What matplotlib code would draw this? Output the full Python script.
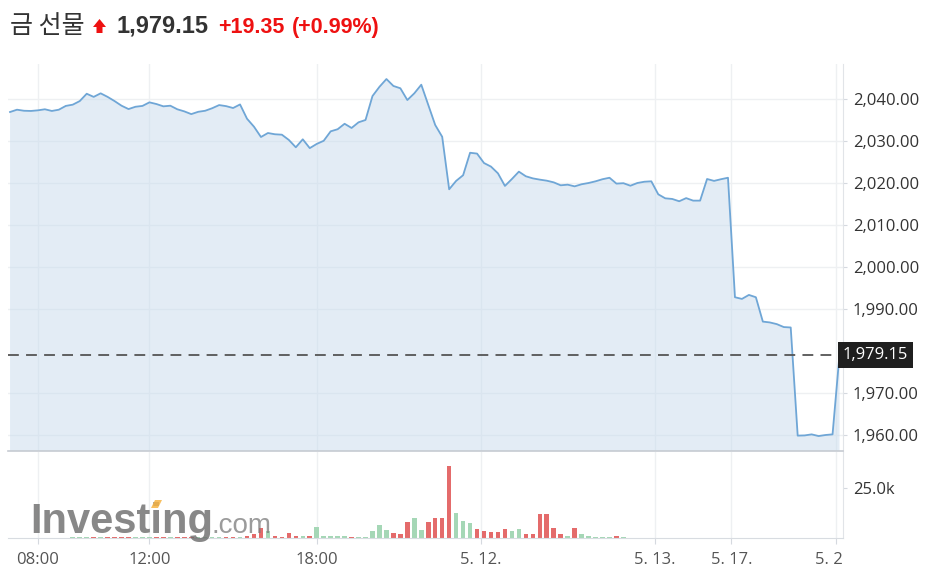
import numpy as np
import matplotlib
matplotlib.use('Agg')
import matplotlib.pyplot as plt
from matplotlib.patches import Polygon
from matplotlib.transforms import blended_transform_factory, ScaledTranslation

# gold futures, one point every 15 min
price = [2036.9, 2037.45, 2037.2, 2037.15, 2037.3, 2037.55, 2037.15, 2037.45, 2038.35, 2038.65,
         2039.5, 2041.25, 2040.5, 2041.35, 2040.5, 2039.5, 2038.4, 2037.6, 2038.15, 2038.35,
         2039.2, 2038.8, 2038.25, 2038.4, 2037.55, 2037.05, 2036.4, 2036.95, 2037.2, 2037.8,
         2038.55, 2038.3, 2037.85, 2038.7, 2035.3, 2033.4, 2030.95, 2031.9, 2031.6, 2031.5,
         2030.25, 2028.5, 2030.4, 2028.3, 2029.3, 2030.05, 2032.3, 2032.8, 2034.1, 2033.1,
         2034.45, 2035.0, 2040.7, 2042.9, 2044.75, 2043.1, 2042.55, 2039.75, 2041.35, 2043.4,
         2038.6, 2033.8, 2031.0, 2018.5, 2020.5, 2021.85, 2027.2, 2027.0, 2024.75, 2023.9,
         2022.3, 2019.3, 2020.95, 2022.7, 2021.6, 2021.1, 2020.8, 2020.55, 2020.15, 2019.45,
         2019.6, 2019.2, 2019.7, 2020.0, 2020.4, 2020.9, 2021.25, 2019.85, 2019.95, 2019.35,
         2020.0, 2020.3, 2020.4, 2017.3, 2016.35, 2016.2, 2015.65, 2016.4, 2015.8, 2015.8,
         2020.95, 2020.5, 2020.9, 2021.25, 1992.8, 1992.4, 1993.35, 1992.8, 1987.0, 1986.8,
         1986.4, 1985.7, 1985.6, 1959.85, 1959.9, 1960.15, 1959.75, 1960.0, 1960.15, 1979.15]

volume = [0, 0, 0, 0, 0, 0, 0, 0, 0, 400,
          400, 400, 400, 400, 400, 400, 400, 400, 400, 400,
          400, 400, 400, 400, 400, 400, 400, 400, 400, 400,
          400, 400, 400, 400, 1150, 2000, 4850, 3350, 1150, 500,
          2650, 1150, 1150, 1150, 5650, 1150, 1150, 1150, 1150, 500,
          500, 500, 3500, 6500, 4150, 2650, 2000, 8000, 10150, 4150,
          8000, 10150, 10250, 35850, 12650, 8650, 7350, 4350, 3650, 2850,
          2850, 4350, 3500, 4350, 2000, 2000, 11850, 11850, 5000, 2000,
          1150, 4850, 2000, 1150, 500, 500, 500, 1150, 500, 0,
          0, 0, 0, 0, 0, 0, 0, 0, 0, 0,
          0, 0, 0, 0, 0, 0, 0, 0, 0, 0,
          0, 0, 0, 0, 0, 0, 0, 0, 0, 0]

tick_pos = [4, 20, 44, 67.5, 92.5, 103.5, 118.5]
tick_lbl = ['08:00', '12:00', '18:00', '5. 12.', '5. 13.', '5. 17.', '5. 2']
price_ticks = [1960, 1970, 1990, 2000, 2010, 2020, 2030, 2040]
last = 1979.15
change = '+19.35'
change_pct = '(+0.99%)'

W, H = 931, 580
fig = plt.figure(figsize=(W / 100, H / 100), dpi=100)
fig.patch.set_facecolor('white')
plt.rcParams['font.family'] = ['Open Sans', 'DejaVu Sans']

ax = fig.add_axes([8 / W, 1 - 451 / H, 835 / W, 387 / H])
vax = fig.add_axes([8 / W, 1 - 538 / H, 835 / W, 86 / H], sharex=ax)

x = np.arange(len(price))
ax.fill_between(x, price, 1900, color='#c6d9ec', alpha=0.48, lw=0, zorder=2)
ax.plot(x, price, color='#6fa6d6', lw=1.3, zorder=3)
ax.set_ylim(1956.19, 2048.33)
ax.set_xlim(-0.29, 119.5)

ax.set_yticks(price_ticks)
ax.set_yticklabels(['{:,.2f}'.format(v) for v in price_ticks])
ax.yaxis.tick_right()
ax.tick_params(axis='y', length=3, color='#d5d9df', labelsize=12, labelcolor='#333333', pad=4)
ax.tick_params(axis='x', length=0, labelbottom=False)
ax.grid(True, color='#eef0f2', lw=1, zorder=1)
ax.set_axisbelow(True)
for s in ['top', 'left']:
    ax.spines[s].set_visible(False)
ax.spines['right'].set_color('#e1e4e8')
ax.spines['bottom'].set_color('#c6cbd2')
ax.spines['bottom'].set_linewidth(1.2)

# last price line + label
ax.axhline(last, color='#555555', lw=1.3, ls=(0, (6, 4)), zorder=4)
ax.text(1.0, last, '{:,.2f}'.format(last), transform=blended_transform_factory(ax.transAxes, ax.transData),
        ha='left', va='center', color='white', fontsize=12, zorder=5, clip_on=False,
        bbox=dict(boxstyle='square,pad=0.3', fc='#1f1f1f', ec='none'))

# volume
colors = ['#a5d7b6' if i == 0 or price[i] >= price[i - 1] else '#e46b6b' for i in range(len(price))]
vax.bar(x, volume, width=0.65, color=colors, zorder=2)
vax.set_ylim(0, 43000)
vax.set_yticks([25000])
vax.set_yticklabels(['25.0k'])
vax.yaxis.tick_right()
vax.tick_params(axis='y', length=3, color='#d5d9df', labelsize=12, labelcolor='#333333', pad=4)
vax.set_xticks(tick_pos)
vax.set_xticklabels(tick_lbl)
vax.tick_params(axis='x', length=4, color='#d5d9df', labelsize=12, labelcolor='#555555', pad=6)
vax.grid(True, axis='x', color='#eef0f2', lw=1, zorder=1)
vax.set_axisbelow(True)
for s in ['top', 'left']:
    vax.spines[s].set_visible(False)
vax.spines['right'].set_color('#e1e4e8')
vax.spines['bottom'].set_color('#d8dce1')
lbl = vax.get_xticklabels()[-1]
lbl.set_transform(lbl.get_transform() + ScaledTranslation(-0.07, 0, fig.dpi_scale_trans))

# header
yb = 1 - 33 / H
fig.text(10 / W, yb, '금 선물', fontsize=18, color='#333333', va='baseline',
         family=['Noto Sans CJK KR', 'DejaVu Sans'])
fig.patches.append(Polygon([[93 / W, 1 - 27 / H], [99.5 / W, 1 - 19 / H], [106 / W, 1 - 27 / H],
                            [102.5 / W, 1 - 27 / H], [102.5 / W, 1 - 33 / H], [96.5 / W, 1 - 33 / H],
                            [96.5 / W, 1 - 27 / H]], closed=True, transform=fig.transFigure,
                           fc='#ee1111', ec='none'))
fig.text(117 / W, yb, '{:,.2f}'.format(last), fontsize=17, fontweight='bold', color='#333333',
         va='baseline', family='Liberation Sans')
fig.text(218 / W, yb, change, fontsize=15.5, fontweight='bold', color='#ee1111',
         va='baseline', family='Liberation Sans')
fig.text(292 / W, yb, change_pct, fontsize=15.5, fontweight='bold', color='#ee1111',
         va='baseline', family='Liberation Sans')

# watermark
fig.text(30 / W, 1 - 533 / H, 'Investing', fontsize=30, fontweight='bold', color='#6a6a6a',
         alpha=0.8, va='baseline', family='Liberation Sans', zorder=10)
fig.text(212 / W, 1 - 533 / H, '.com', fontsize=20, color='#7a7a7a',
         alpha=0.75, va='baseline', family='Liberation Sans', zorder=10)
fig.patches.append(Polygon([[151 / W, 1 - 508 / H], [155 / W, 1 - 500 / H], [162 / W, 1 - 500 / H],
                            [158 / W, 1 - 508 / H]], closed=True, transform=fig.transFigure,
                           fc='#f6b445', ec='none', alpha=0.85, zorder=11))

fig.savefig('out.png', dpi=100)
